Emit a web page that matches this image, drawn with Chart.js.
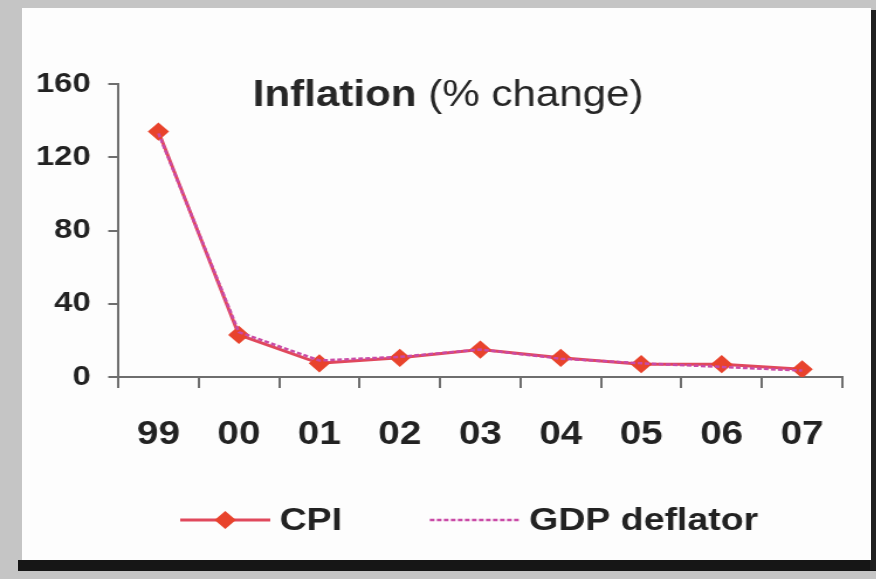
<!DOCTYPE html>
<html>
<head>
<meta charset="utf-8">
<script src="https://cdn.jsdelivr.net/npm/chart.js@4/dist/chart.umd.min.js"></script>
<style>
  html, body { margin: 0; padding: 0; }
  body { width: 876px; height: 579px; background: #c5c5c5; position: relative; overflow: hidden; }
  #shadowB { position: absolute; left: 18px; top: 560px; width: 858px; height: 11px; background: #161616; }
  #shadowR { position: absolute; left: 870px; top: 10px; width: 6px; height: 560px; background: #202020; }
  #panel { position: absolute; left: 22px; top: 8px; width: 849px; height: 552px; background: #fdfdfd; }
  #chart { position: absolute; left: 0; top: 0; transform: scaleX(1.17); transform-origin: 0 0; }
</style>
</head>
<body>
<div id="shadowB"></div>
<div id="shadowR"></div>
<div id="panel"></div>
<canvas id="chart" width="749" height="579"></canvas>
<script>
var years = ['99', '00', '01', '02', '03', '04', '05', '06', '07'];
var cpi = [134, 23, 7.5, 10.5, 15, 10.5, 7, 7, 4.2];
var gdpDeflator = [133, 24.5, 9, 11, 15, 10, 7.5, 5.5, 3.5];
var yTicks = [0, 40, 80, 120, 160];

var FONT = '"Liberation Sans", Arial, sans-serif';

// title with bold first word, drawn inside the plot
var titlePlugin = {
    id: 'mixedTitle',
    afterDraw: function(chart) {
        var ctx = chart.ctx;
        var bold = 'Inflation';
        var rest = ' (% change)';
        ctx.save();
        ctx.fillStyle = '#262626';
        ctx.textBaseline = 'alphabetic';
        ctx.font = 'bold 36px ' + FONT;
        var w1 = ctx.measureText(bold).width;
        ctx.font = '36px ' + FONT;
        var w2 = ctx.measureText(rest).width;
        var x = 383 - (w1 + w2) / 2;
        ctx.font = 'bold 36px ' + FONT;
        ctx.fillText(bold, x, 106);
        ctx.font = '36px ' + FONT;
        ctx.fillText(rest, x + w1, 106);
        ctx.restore();
    }
};

// legend: line sample (with marker if the dataset has one) then label
var legendPlugin = {
    id: 'lineLegend',
    afterDraw: function(chart) {
        var ctx = chart.ctx;
        var y = 520;
        var x = 154;
        var lineLen = 77;
        ctx.save();
        ctx.font = 'bold 32px ' + FONT;
        ctx.textBaseline = 'middle';
        chart.data.datasets.forEach(function(ds) {
            ctx.strokeStyle = ds.borderColor;
            ctx.lineWidth = ds.borderWidth;
            ctx.setLineDash(ds.borderDash || []);
            ctx.beginPath();
            ctx.moveTo(x, y);
            ctx.lineTo(x + lineLen, y);
            ctx.stroke();
            ctx.setLineDash([]);
            if (ds.pointRadius > 0) {
                ctx.fillStyle = ds.pointBackgroundColor;
                ctx.strokeStyle = ds.pointBorderColor;
                Chart.helpers.drawPoint(ctx, {
                    pointStyle: ds.pointStyle,
                    radius: ds.pointRadius,
                    borderWidth: 1
                }, x + lineLen / 2, y);
            }
            ctx.fillStyle = '#222';
            ctx.fillText(ds.label, x + lineLen + 8, y + 1);
            x += lineLen + 8 + ctx.measureText(ds.label).width + 75;
        });
        ctx.restore();
    }
};

new Chart(document.getElementById('chart'), {
    type: 'line',
    data: {
        labels: years,
        datasets: [{
            label: 'CPI',
            data: cpi,
            borderColor: '#e0485c',
            borderWidth: 3,
            pointStyle: 'rectRot',
            pointRadius: 7,
            pointBackgroundColor: '#e8432c',
            pointBorderColor: '#e8432c',
            fill: false,
            tension: 0,
            order: 1
        }, {
            label: 'GDP deflator',
            data: gdpDeflator,
            borderColor: '#c94aa6',
            borderWidth: 2.5,
            borderDash: [4, 2],
            pointRadius: 0,
            fill: false,
            tension: 0,
            order: 0
        }]
    },
    options: {
        responsive: false,
        devicePixelRatio: 1,
        animation: false,
        layout: { padding: { top: 84, left: 31, right: 29, bottom: 132 } },
        plugins: {
            legend: { display: false },
            title: { display: false },
            tooltip: { enabled: false }
        },
        scales: {
            x: {
                offset: true,
                grid: { offset: true, drawOnChartArea: false, drawTicks: true, tickLength: 11, color: '#6e6e6e', lineWidth: 2 },
                border: { color: '#6e6e6e', width: 2 },
                ticks: { color: '#222', font: { family: FONT, size: 33, weight: 'bold' }, padding: 27, maxRotation: 0 },
                afterFit: function(s) { s.height = 70; }
            },
            y: {
                min: 0,
                max: 160,
                afterBuildTicks: function(s) { s.ticks = yTicks.map(function(v) { return { value: v }; }); },
                grid: { drawOnChartArea: false, drawTicks: true, tickLength: 8.5, color: '#6e6e6e', lineWidth: 2 },
                border: { color: '#6e6e6e', width: 2 },
                ticks: { color: '#222', font: { family: FONT, size: 28, weight: 'bold' }, padding: 15 },
                afterFit: function(s) { s.width = 70; }
            }
        }
    },
    plugins: [titlePlugin, legendPlugin]
});
</script>
</body>
</html>
